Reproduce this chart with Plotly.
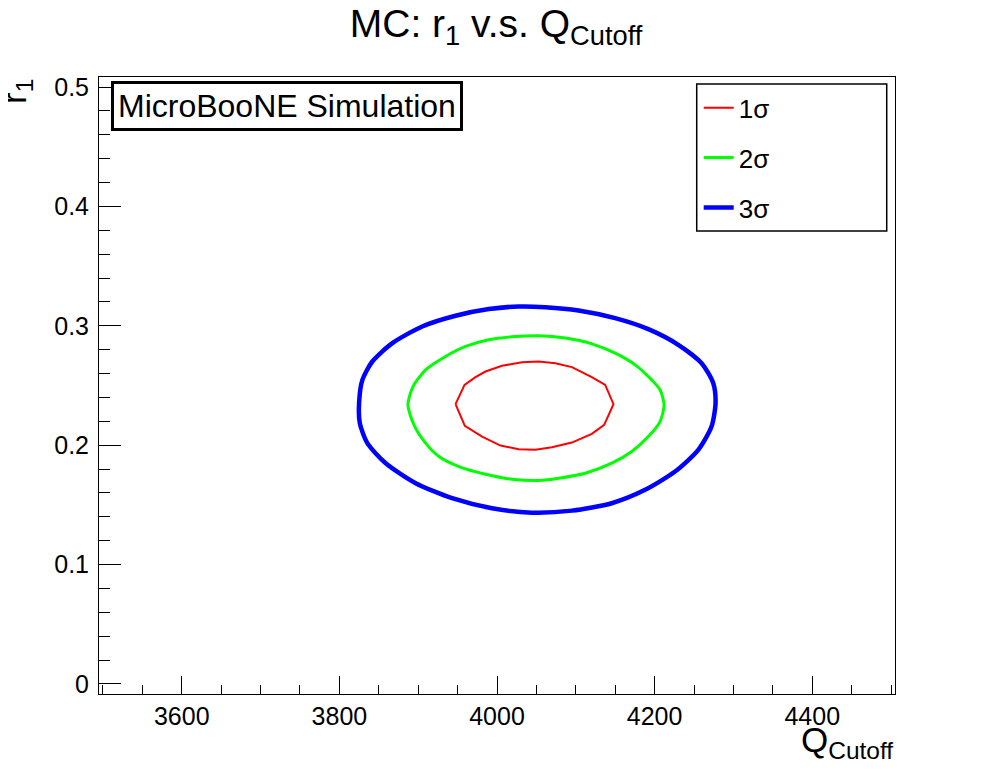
import plotly.graph_objects as go

# ---- data ----
red_x = [3947.4, 3958.8, 3972.7, 3985.4, 4006.4, 4031.7, 4052.8, 4074.0, 4095.0, 4120.3, 4137.3,
         4147.8, 4136.0, 4120.3, 4095.0, 4069.7, 4048.7, 4027.5, 4004.4, 3981.1, 3959.2, 3947.4]
red_y = [0.2344, 0.2505, 0.2570, 0.2617, 0.2665, 0.2695, 0.2701, 0.2687, 0.2654, 0.2570, 0.2505,
         0.2344, 0.2170, 0.2095, 0.2022, 0.1983, 0.1961, 0.1966, 0.1997, 0.2072, 0.2162, 0.2344]

green_x = [3887.0, 3893.4, 3909.4, 3934.7, 3960.1, 3989.6, 4023.4, 4052.8, 4086.6, 4120.3, 4149.9,
           4175.3, 4196.3, 4206.9, 4212.0, 4206.9, 4192.0, 4171.0, 4145.6, 4112.0, 4078.2, 4052.8,
           4019.0, 3985.4, 3951.6, 3926.3, 3909.4, 3894.6, 3887.0]
green_y = [0.2338, 0.2491, 0.2631, 0.2743, 0.2827, 0.2883, 0.2910, 0.2916, 0.2897, 0.2849, 0.2771,
           0.2673, 0.2547, 0.2464, 0.2338, 0.2198, 0.2072, 0.1947, 0.1849, 0.1765, 0.1723, 0.1704,
           0.1715, 0.1757, 0.1821, 0.1905, 0.2017, 0.2170, 0.2338]

blue_x = [3825.0, 3829.2, 3841.8, 3867.2, 3905.1, 3947.4, 3989.6, 4027.5, 4061.3, 4103.5, 4149.9,
          4192.0, 4230.0, 4259.6, 4274.4, 4277.3, 4272.2, 4255.4, 4225.9, 4187.9, 4145.6, 4095.0,
          4044.4, 3993.7, 3943.1, 3896.8, 3858.8, 3835.5, 3825.9, 3825.0]
blue_y = [0.2352, 0.2547, 0.2701, 0.2855, 0.2994, 0.3084, 0.3140, 0.3162, 0.3156, 0.3128, 0.3064,
          0.2972, 0.2841, 0.2687, 0.2519, 0.2352, 0.2156, 0.1961, 0.1779, 0.1626, 0.1514, 0.1452,
          0.1435, 0.1472, 0.1556, 0.1682, 0.1849, 0.2017, 0.2185, 0.2352]

series_names = ["1σ", "2σ", "3σ"]
series_colors = ["#ff0000", "#00ff00", "#0000ff"]
series_widths = [2, 3, 4.5]
series_shapes = ["linear", "spline", "spline"]

FONT = "Liberation Sans, Arial, Helvetica, sans-serif"

fig = go.Figure()
for name, xs, ys, col, w, shp in zip(series_names, [red_x, green_x, blue_x], [red_y, green_y, blue_y],
                                     series_colors, series_widths, series_shapes):
    fig.add_trace(go.Scatter(x=xs, y=ys, mode="lines", name=name, legendgroup=name,
                             line=dict(color=col, width=w, shape=shp, smoothing=0.7)))

# page has an 8px body margin: figure is 988x764 placed at (8, 8)
fig.update_layout(
    width=988, height=764,
    margin=dict(l=91, r=101, t=69, b=78, pad=0, autoexpand=False),
    paper_bgcolor="white", plot_bgcolor="white",
    font=dict(family=FONT, color="black", size=25),
    title=dict(text="MC: r<sub>1</sub> v.s. Q<sub>Cutoff</sub>", x=0.494, xref="container",
               y=0.980, yanchor="middle", font=dict(size=39, family=FONT, color="black")),
    showlegend=True,
    legend=dict(x=0.7534, xanchor="left", y=0.988, yanchor="top",
                bgcolor="rgba(0,0,0,0)", borderwidth=0,
                font=dict(size=26, family=FONT, color="black"),
                tracegroupgap=13),
    xaxis=dict(range=[3495, 4505], showgrid=False, zeroline=False, automargin=False,
               showline=True, linecolor="black", linewidth=1, mirror=True,
               ticks="inside", ticklen=18, tickcolor="black", tickwidth=1,
               dtick=200, tick0=3600, tickfont=dict(size=25),
               minor=dict(dtick=50, tick0=3500, ticks="inside", ticklen=9, tickcolor="black",
                          showgrid=False)),
    yaxis=dict(range=[-0.0084, 0.5084], showgrid=False, zeroline=False, automargin=False,
               showline=True, linecolor="black", linewidth=1, mirror=True,
               ticks="inside", ticklen=22, tickcolor="black", tickwidth=1,
               dtick=0.1, tick0=0, tickfont=dict(size=25),
               ticklabelstandoff=4,
               minor=dict(dtick=0.02, tick0=0, ticks="inside", ticklen=11, tickcolor="black",
                          showgrid=False)),
    shapes=[dict(type="rect", xref="paper", yref="paper", x0=0.7509, x1=0.9896, y0=0.7504, y1=0.9887,
                 line=dict(color="black", width=1.5), fillcolor="rgba(0,0,0,0)", layer="above")],
    annotations=[
        dict(text="MicroBooNE Simulation", xref="paper", yref="paper", x=0.0147, y=0.994,
             xanchor="left", yanchor="top", showarrow=False,
             font=dict(size=32, family=FONT, color="black"),
             bordercolor="black", borderwidth=3, borderpad=4, bgcolor="white"),
        dict(text="Q<sub>Cutoff</sub>", xref="paper", yref="paper", x=1.0, y=-0.039,
             xanchor="right", yanchor="top", showarrow=False,
             font=dict(size=35, family=FONT, color="black")),
        dict(text="r<sub>1</sub>", xref="paper", yref="paper", x=-0.105, y=1.0,
             xanchor="center", yanchor="top", showarrow=False, textangle=-90,
             font=dict(size=35, family=FONT, color="black")),
    ],
)

fig.write_html("out.html")
